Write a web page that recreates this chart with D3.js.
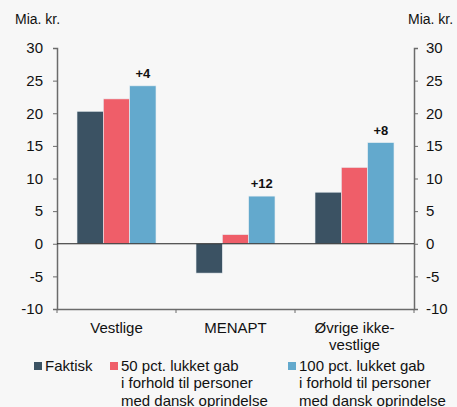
<!DOCTYPE html>
<html>
<head>
<meta charset="utf-8">
<script src="https://cdn.jsdelivr.net/npm/d3@7"></script>
<style>
  body { margin: 0; background: #f7f7f7; }
  svg { display: block; font-family: Arial, "Liberation Sans", sans-serif; }
</style>
</head>
<body>
<svg id="chart" width="457" height="407"></svg>
<script>
'use strict';

var categories = ['Vestlige', 'MENAPT', 'Øvrige ikke-\nvestlige']
var seriesNames = ['Faktisk', '50 pct. lukket gab\ni forhold til personer\nmed dansk oprindelse', '100 pct. lukket gab\ni forhold til personer\nmed dansk oprindelse']
var faktisk = [20.3, -4.5, 7.9]
var halfGap = [22.2, 1.4, 11.7]
var fullGap = [24.2, 7.3, 15.5]
var gainLabels = ['+4', '+12', '+8']
var yTicks = [-10, -5, 0, 5, 10, 15, 20, 25, 30]
var colors = ['#3b5263', '#ef5e69', '#63a9cd']

var chart = (function() {
    var svg = d3.select('#chart')
    var plotLeft = 57, plotRight = 414, plotTop = 48, plotBottom = 309

    var x = d3.scaleBand().domain(categories).range([plotLeft, plotRight]).paddingInner(0).paddingOuter(0)
    var inner = d3.scaleBand().domain(d3.range(3)).range([0, x.bandwidth()]).paddingOuter(0.76).paddingInner(0)
    var y = d3.scaleLinear().domain([-10, 30]).range([plotBottom, plotTop])

    var values = [faktisk, halfGap, fullGap]

    // bars
    var groups = svg.append('g').selectAll('g')
        .data(categories)
        .enter().append('g')
        .attr('transform', function(d) { return 'translate(' + x(d) + ',0)' })

    groups.selectAll('rect')
        .data(function(d, i) { return values.map(function(v, s) { return { s: s, v: v[i] } }) })
        .enter().append('rect')
        .attr('x', function(d) { return inner(d.s) })
        .attr('width', inner.bandwidth())
        .attr('y', function(d) { return y(Math.max(0, d.v)) })
        .attr('height', function(d) { return Math.abs(y(d.v) - y(0)) })
        .attr('fill', function(d) { return colors[d.s] })
        .attr('stroke', '#e8eef2')
        .attr('stroke-width', 0.6)

    // gain labels above the blue bars
    groups.append('text')
        .attr('x', inner(2) + inner.bandwidth() / 2)
        .attr('y', function(d, i) { return y(fullGap[i]) - 8 })
        .attr('text-anchor', 'middle')
        .attr('font-size', 13)
        .attr('font-weight', 'bold')
        .attr('fill', '#111')
        .text(function(d, i) { return gainLabels[i] })

    // axes
    var axisColor = '#6b6b6b'
    var fmt = function(d) { return String(d) }
    var leftAxis = svg.append('g')
        .attr('transform', 'translate(' + plotLeft + ',0)')
        .call(d3.axisLeft(y).tickValues(yTicks).tickFormat(fmt).tickSize(4).tickPadding(10))
    var rightAxis = svg.append('g')
        .attr('transform', 'translate(' + plotRight + ',0)')
        .call(d3.axisRight(y).tickValues(yTicks).tickFormat(fmt).tickSize(4).tickPadding(8))

    ;[leftAxis, rightAxis].forEach(function(a) {
        a.select('.domain').attr('stroke', axisColor).attr('stroke-width', 1.5)
        a.selectAll('.tick line').attr('stroke', axisColor)
        a.selectAll('.tick text').attr('font-size', 15).attr('fill', '#111').attr('font-family', null)
    })

    // bottom axis at -10
    var xAxis = svg.append('g')
        .attr('transform', 'translate(0,' + plotBottom + ')')
        .call(d3.axisBottom(x).tickSize(0).tickFormat(''))
    xAxis.select('.domain').attr('stroke', axisColor).attr('stroke-width', 1.5)

    svg.append('g').selectAll('line')
        .data([plotLeft, plotLeft + x.step(), plotLeft + 2 * x.step(), plotRight])
        .enter().append('line')
        .attr('x1', function(d) { return d }).attr('x2', function(d) { return d })
        .attr('y1', plotBottom).attr('y2', plotBottom + 4)
        .attr('stroke', axisColor)

    // zero line
    svg.append('line')
        .attr('x1', plotLeft).attr('x2', plotRight)
        .attr('y1', y(0)).attr('y2', y(0))
        .attr('stroke', '#222').attr('stroke-width', 1)

    // category labels
    svg.append('g').selectAll('text')
        .data(categories)
        .enter().append('text')
        .attr('x', function(d) { return x(d) + x.bandwidth() / 2 })
        .attr('y', 333)
        .attr('text-anchor', 'middle')
        .attr('font-size', 15)
        .attr('fill', '#111')
        .each(function(d) {
            var t = d3.select(this)
            d.split('\n').forEach(function(line, i) {
                t.append('tspan').attr('x', t.attr('x')).attr('dy', i === 0 ? 0 : 17).text(line)
            })
        })

    // unit labels
    svg.append('text').attr('x', 15).attr('y', 24).attr('font-size', 14).attr('fill', '#111').text('Mia. kr.')
    svg.append('text').attr('x', 408).attr('y', 24).attr('font-size', 14).attr('fill', '#111').text('Mia. kr.')

    // legend
    var legendX = [34, 110, 288]
    var legend = svg.append('g').selectAll('g')
        .data(seriesNames)
        .enter().append('g')
        .attr('transform', function(d, i) { return 'translate(' + legendX[i] + ',0)' })

    legend.append('rect')
        .attr('x', 0).attr('y', 362)
        .attr('width', 8).attr('height', 8)
        .attr('fill', function(d, i) { return colors[i] })

    legend.append('text')
        .attr('x', 11).attr('y', 371)
        .attr('font-size', 15)
        .attr('fill', '#111')
        .each(function(d) {
            var t = d3.select(this)
            d.split('\n').forEach(function(line, i) {
                t.append('tspan').attr('x', 11).attr('dy', i === 0 ? 0 : 17.3).text(line)
            })
        })
}())
</script>
</body>
</html>
